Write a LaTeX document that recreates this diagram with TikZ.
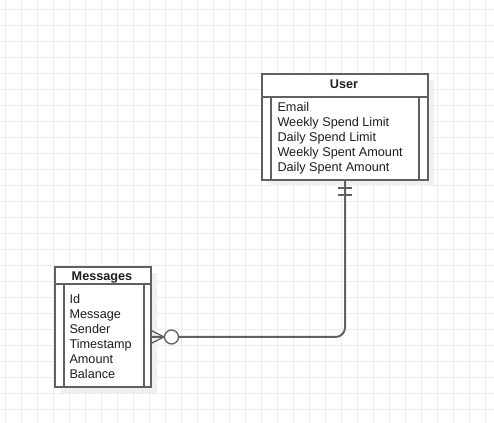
\documentclass[tikz,border=0pt]{standalone}
\usepackage{fontspec}
\setmainfont{Liberation Sans}

\definecolor{gridgray}{RGB}{236,236,236}
\definecolor{shadowgray}{RGB}{240,240,240}
\definecolor{linegray}{RGB}{96,96,96}
\definecolor{textgray}{RGB}{30,30,30}

\tikzset{every picture/.style={line width=0.75pt}}
\tikzset{
	entity/.style={draw=linegray, line width=1.5, fill=white, anchor=north west, inner sep=0pt},
	title/.style={anchor=base, inner sep=0.75pt, text=textgray, font=\fontsize{9.5}{11}\selectfont\bfseries},
	attr/.style={anchor=base west, inner sep=0.75pt, text=textgray, font=\fontsize{9.5}{11}\selectfont},
	link/.style={draw=linegray, line width=1.5},
}

\begin{document}
\begin{tikzpicture}[x=0.75pt,y=0.75pt,yscale=-1,xscale=1]
	\useasboundingbox (0,0) rectangle (494,423);
	
	% background grid
	\foreach \x in {5,21,...,494} \draw[gridgray, line width=0.75] (\x,0) -- (\x,423);
	\foreach \y in {10,26,...,423} \draw[gridgray, line width=0.75] (0,\y) -- (494,\y);
	
	% shadows
	\fill[shadowgray] (268,80) rectangle (434,186);
	\fill[shadowgray] (61,273) rectangle (157,393);
	
	% User
	\node[entity, minimum width=124.5pt, minimum height=79.5pt] (user) at (261,73) {};
	\draw[linegray, line width=1.5] (user.north west) ++(0,24) -- ++(166,0);
	\draw[linegray, line width=1.5] (user.north west) ++(10,24) -- ++(0,82);
	\draw[linegray, line width=1.5] (user.north east) ++(-10,24) -- ++(0,82);
	\node[title] (usertitle) at (344,89) {User};
	\foreach \t [count=\i] in {Email,Weekly Spend Limit,Daily Spend Limit,Weekly Spent Amount,Daily Spent Amount}
		\node[attr] (user-\i) at (276,97+15*\i) {\t};
	
	% Messages
	\node[entity, minimum width=72pt, minimum height=90pt] (msg) at (54,266) {};
	\draw[linegray, line width=1.5] (msg.north west) ++(0,18) -- ++(96,0);
	\draw[linegray, line width=1.5] (msg.north west) ++(9.5,18) -- ++(0,102);
	\draw[linegray, line width=1.5] (msg.north east) ++(-8.5,18) -- ++(0,102);
	\node[title] (msgtitle) at (102,281) {Messages};
	\foreach \t [count=\i] in {Id,Message,Sender,Timestamp,Amount,Balance}
		\node[attr] (msg-\i) at (68,289+15*\i) {\t};
	
	% relation: one (User) to zero or many (Messages)
	\coordinate (msgend) at (150,337);
	\draw[link, rounded corners=7] (user.south) |- (msgend);
	\draw[link] (user.south) ++(-7,7) -- ++(14,0);
	\draw[link] (user.south) ++(-7,14) -- ++(14,0);
	\draw[linegray, line width=1] (msgend) ++(0,-7) -- ++(14,7) -- ++(-14,7);
	\draw[linegray, line width=1, fill=white] (msgend) ++(21.5,0) circle [radius=7];
	
\end{tikzpicture}
\end{document}
